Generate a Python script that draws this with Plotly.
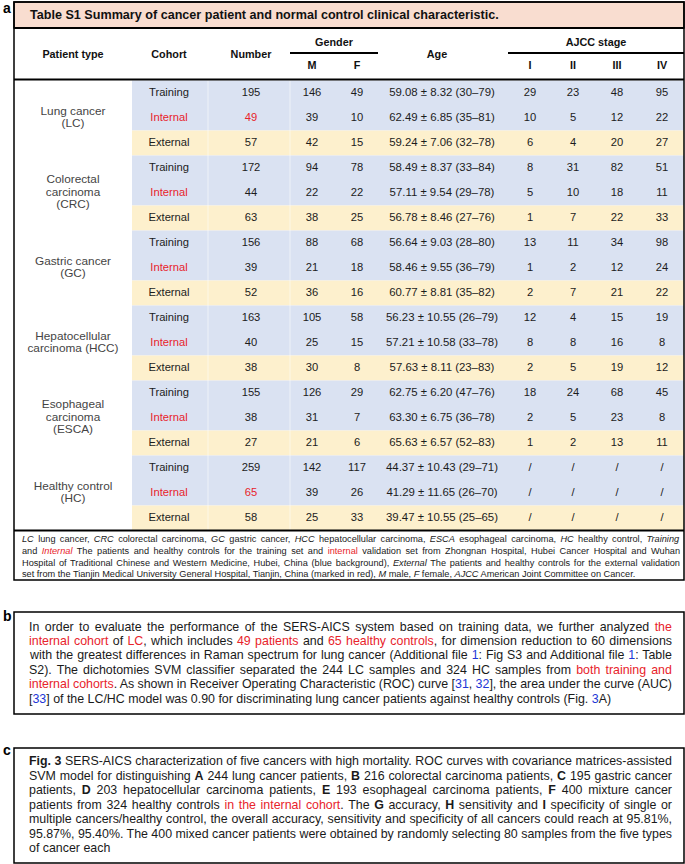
import json
import plotly.graph_objects as go

# ---------------- data ----------------
patient_types = [["Lung cancer", "(LC)"],
                 ["Colorectal", "carcinoma", "(CRC)"],
                 ["Gastric cancer", "(GC)"],
                 ["Hepatocellular", "carcinoma (HCC)"],
                 ["Esophageal", "carcinoma", "(ESCA)"],
                 ["Healthy control", "(HC)"]]
cohorts = ["Training", "Internal", "External"]
numbers = [195, 49, 57, 172, 44, 63, 156, 39, 52, 163, 40, 38, 155, 38, 27, 259, 65, 58]
male = [146, 39, 42, 94, 22, 38, 88, 21, 36, 105, 25, 30, 126, 31, 21, 142, 39, 25]
female = [49, 10, 15, 78, 22, 25, 68, 18, 16, 58, 15, 8, 29, 7, 6, 117, 26, 33]
age_mean = ["59.08", "62.49", "59.24", "58.49", "57.11", "56.78", "56.64", "58.46", "60.77",
            "56.23", "57.21", "57.63", "62.75", "63.30", "65.63", "44.37", "41.29", "39.47"]
age_sd = ["8.32", "6.85", "7.06", "8.37", "9.54", "8.46", "9.03", "9.55", "8.81",
          "10.55", "10.58", "8.11", "6.20", "6.75", "6.57", "10.43", "11.65", "10.55"]
age_min = [30, 35, 32, 33, 29, 27, 28, 36, 35, 26, 33, 23, 47, 36, 52, 29, 26, 25]
age_max = [79, 81, 78, 84, 78, 76, 80, 79, 82, 79, 78, 83, 76, 78, 83, 71, 70, 65]
stage_I = [29, 10, 6, 8, 5, 1, 13, 1, 2, 12, 8, 2, 18, 2, 1, None, None, None]
stage_II = [23, 5, 4, 31, 10, 7, 11, 2, 7, 4, 8, 5, 24, 5, 2, None, None, None]
stage_III = [48, 12, 20, 82, 18, 22, 34, 12, 21, 15, 16, 19, 68, 23, 13, None, None, None]
stage_IV = [95, 22, 27, 51, 11, 33, 98, 24, 22, 19, 8, 12, 45, 8, 11, None, None, None]
red_number_rows = [1, 16]  # LC internal (49) and HC internal (65) shown in red

title = "Table S1 Summary of cancer patient and normal control clinical characteristic."
header_cols = ["Patient type", "Cohort", "Number", "Age"]
gender_labels = ["M", "F"]
stage_labels = ["I", "II", "III", "IV"]

RED = "#e8232b"
BLUE = "#2136d6"
R = lambda s: f"<span style='color:{RED}'>{s}</span>"
B = lambda s: f"<span style='color:{BLUE}'>{s}</span>"

footnote_lines = [
    "<i>LC</i> lung cancer, <i>CRC</i> colorectal carcinoma, <i>GC</i> gastric cancer, <i>HCC</i> hepatocellular carcinoma, <i>ESCA</i> esophageal carcinoma, <i>HC</i> healthy control, <i>Training</i>",
    "and <i>" + R("Internal") + "</i> The patients and healthy controls for the training set and " + R("internal") + " validation set from Zhongnan Hospital, Hubei Cancer Hospital and Wuhan",
    "Hospital of Traditional Chinese and Western Medicine, Hubei, China (blue background), <i>External</i> The patients and healthy controls for the external validation",
    "set from the Tianjin Medical University General Hospital, Tianjin, China (marked in red), <i>M</i> male, <i>F</i> female, <i>AJCC</i> American Joint Committee on Cancer.",
]
para_b = [
    "In order to evaluate the performance of the SERS-AICS system based on training data, we further analyzed " + R("the"),
    R("internal cohort") + " of " + R("LC") + ", which includes " + R("49 patients") + " and " + R("65 healthy controls") + ", for dimension reduction to 60 dimensions",
    "with the greatest differences in Raman spectrum for lung cancer (Additional file " + B("1") + ": Fig S3 and Additional file " + B("1") + ": Table",
    "S2). The dichotomies SVM classifier separated the 244 LC samples and 324 HC samples from " + R("both training and"),
    R("internal cohorts") + ". As shown in Receiver Operating Characteristic (ROC) curve [" + B("31") + ", " + B("32") + "], the area under the curve (AUC)",
    "[" + B("33") + "] of the LC/HC model was 0.90 for discriminating lung cancer patients against healthy controls (Fig. " + B("3") + "A)",
]
para_c = [
    "<b>Fig. 3</b> SERS-AICS characterization of five cancers with high mortality. ROC curves with covariance matrices-assisted",
    "SVM model for distinguishing <b>A</b> 244 lung cancer patients, <b>B</b> 216 colorectal carcinoma patients, <b>C</b> 195 gastric cancer",
    "patients, <b>D</b> 203 hepatocellular carcinoma patients, <b>E</b> 193 esophageal carcinoma patients, <b>F</b> 400 mixture cancer",
    "patients from 324 healthy controls " + R("in the internal cohort") + ". The <b>G</b> accuracy, <b>H</b> sensitivity and <b>I</b> specificity of single or",
    "multiple cancers/healthy control, the overall accuracy, sensitivity and specificity of all cancers could reach at 95.81%,",
    "95.87%, 95.40%. The 400 mixed cancer patients were obtained by randomly selecting 80 samples from the five types",
    "of cancer each",
]

# ---------------- layout constants ----------------
W, H = 685, 864
XL, XR = 14, 684
ROW_TOP, ROW_H = 80.5, 25.0
BAND_X0 = 132
COL_X = {"type": 73, "cohort": 169, "number": 251, "M": 312, "F": 357, "age_h": 437, "age": 442,
         "I": 530, "II": 573, "III": 617, "IV": 662}
NARROW = "Liberation Sans Narrow, Arial Narrow, Liberation Sans, Arial, sans-serif"
SANS = "Liberation Sans, Arial, Helvetica, sans-serif"
BAND_BLUE = "#dae2f2"
BAND_YEL = "#fdf0cd"
BODY_SIZE = 11.2
BODY_COLOR = "#1c1c1c"

fig = go.Figure()
shapes = []
n_rows = len(numbers)

for g in range(len(patient_types)):
    y0 = ROW_TOP + 3 * g * ROW_H
    shapes.append(dict(type="rect", x0=BAND_X0, x1=XR, y0=y0, y1=y0 + 2 * ROW_H,
                       fillcolor=BAND_BLUE, line_width=0, layer="below"))
    shapes.append(dict(type="rect", x0=BAND_X0, x1=XR, y0=y0 + 2 * ROW_H, y1=y0 + 3 * ROW_H,
                       fillcolor=BAND_YEL, line_width=0, layer="below"))
for xs in [208, 290]:
    shapes.append(dict(type="line", x0=xs, x1=xs, y0=ROW_TOP, y1=ROW_TOP + n_rows * ROW_H,
                       line=dict(color="rgba(255,255,255,0.55)", width=1), layer="below"))

shapes.append(dict(type="rect", x0=XL, x1=XR, y0=2, y1=28, fillcolor="#f9ddd0",
                   line=dict(color="black", width=1.5), layer="below"))
shapes.append(dict(type="rect", x0=XL, x1=XR, y0=2, y1=580, line=dict(color="black", width=1.5)))
for yy in [28, 79.5, ROW_TOP + n_rows * ROW_H]:
    shapes.append(dict(type="line", x0=XL, x1=XR, y0=yy, y1=yy, line=dict(color="black", width=2)))
shapes.append(dict(type="line", x0=290, x1=378, y0=53, y1=53, line=dict(color="black", width=2)))
shapes.append(dict(type="line", x0=508, x1=XR, y0=53, y1=53, line=dict(color="black", width=2)))
shapes.append(dict(type="rect", x0=XL, x1=XR, y0=612, y1=714, line=dict(color="black", width=1.5)))
shapes.append(dict(type="rect", x0=XL, x1=XR, y0=748, y1=863, line=dict(color="black", width=1.5)))


def text_trace(xs, ys, texts, size, family, colors):
    fig.add_trace(go.Scatter(x=xs, y=ys, text=texts, mode="text", textposition="middle center",
                             textfont=dict(size=size, family=family, color=colors),
                             hoverinfo="skip", showlegend=False))


hx = [COL_X["type"], COL_X["cohort"], COL_X["number"], COL_X["age_h"], 334, 596,
      COL_X["M"], COL_X["F"], COL_X["I"], COL_X["II"], COL_X["III"], COL_X["IV"]]
hy = [55, 55, 55, 55, 43, 43, 66, 66, 66, 66, 66, 66]
ht = ["<b>%s</b>" % t for t in header_cols + ["Gender", "AJCC stage"] + gender_labels + stage_labels]
text_trace(hx, hy, ht, 10.8, NARROW, "#111")

row_y = [ROW_TOP + (i + 0.5) * ROW_H for i in range(n_rows)]
cohort_col = [cohorts[i % 3] for i in range(n_rows)]
text_trace([COL_X["cohort"]] * n_rows, row_y, cohort_col, BODY_SIZE, NARROW,
           [RED if c == "Internal" else BODY_COLOR for c in cohort_col])
text_trace([COL_X["number"]] * n_rows, row_y, [str(v) for v in numbers], BODY_SIZE, NARROW,
           [RED if i in red_number_rows else BODY_COLOR for i in range(n_rows)])
text_trace([COL_X["M"]] * n_rows, row_y, [str(v) for v in male], BODY_SIZE, NARROW, BODY_COLOR)
text_trace([COL_X["F"]] * n_rows, row_y, [str(v) for v in female], BODY_SIZE, NARROW, BODY_COLOR)
age_txt = [f"{m} ± {s} ({a}–{b})" for m, s, a, b in zip(age_mean, age_sd, age_min, age_max)]
text_trace([COL_X["age"]] * n_rows, row_y, age_txt, 11.4, NARROW, BODY_COLOR)
for key, arr in zip(stage_labels, [stage_I, stage_II, stage_III, stage_IV]):
    text_trace([COL_X[key]] * n_rows, row_y, ["/" if v is None else str(v) for v in arr],
               BODY_SIZE, NARROW, BODY_COLOR)

px, py, pt = [], [], []
for g, lines in enumerate(patient_types):
    yc = row_y[3 * g + 1]
    n = len(lines)
    for k, ln in enumerate(lines):
        px.append(COL_X["type"])
        py.append(yc + (k - (n - 1) / 2) * 12.5)
        pt.append(ln)
text_trace(px, py, pt, 11.8, SANS, "#444")

# ---------------- annotations ----------------
ann = []
justify = {}  # annotation index -> right edge (px) for justified lines
ann.append(dict(x=28, y=15, text="<b>" + title + "</b>", xanchor="left", yanchor="middle",
                showarrow=False, font=dict(size=12.6, family=NARROW, color="#111")))
for lab, yy in [("a", 8), ("b", 616), ("c", 750)]:
    ann.append(dict(x=1, y=yy, text="<b>" + lab + "</b>", xanchor="left", yanchor="middle",
                    showarrow=False, font=dict(size=14, family=SANS, color="black")))


def add_para(lines, x, y0, dy, size, family, right, justify_last=False):
    for k, ln in enumerate(lines):
        if k < len(lines) - 1 or justify_last:
            justify[len(ann)] = right
        ann.append(dict(x=x, y=y0 + dy * k, text=ln, xanchor="left", yanchor="middle",
                        showarrow=False, font=dict(size=size, family=family, color="#1a1a1a")))


add_para(footnote_lines, 20, 539, 11.8, 9.2, SANS, 680, justify_last=False)
add_para(para_b, 27, 626.5, 14.4, 12.4, SANS, 672)
add_para(para_c, 27, 761, 14.5, 12.4, SANS, 672)

fig.update_layout(
    width=W, height=H, margin=dict(l=0, r=0, t=0, b=0),
    paper_bgcolor="white", plot_bgcolor="white",
    xaxis=dict(range=[0, W], visible=False, fixedrange=True),
    yaxis=dict(range=[H, 0], visible=False, fixedrange=True),
    shapes=shapes, annotations=ann, showlegend=False,
)

post = """
document.body.style.margin='0';
var J = %s;
var gd = document.getElementsByClassName('plotly-graph-div')[0];
var root = gd.getBoundingClientRect();
document.querySelectorAll('g.annotation').forEach(function(g){
  var idx = g.getAttribute('data-index');
  if(!(idx in J)) return;
  var t = g.querySelector('text.annotation-text');
  if(!t) return;
  var txt = t.textContent;
  var nsp = (txt.match(/ /g)||[]).length;
  if(!nsp) return;
  var b0 = t.getBoundingClientRect();
  var left0 = b0.left - root.left;
  var ws = (J[idx] - left0 - b0.width)/nsp;
  t.style.wordSpacing = ws + 'px';
  var b1 = t.getBoundingClientRect();
  var dx = b0.left - b1.left;
  var tr = t.getAttribute('transform') || '';
  t.setAttribute('transform', tr + ' translate(' + dx + ',0)');
});
""" % json.dumps({str(k): v for k, v in justify.items()})

fig.write_html("out.html", config={"displayModeBar": False}, post_script=post)
